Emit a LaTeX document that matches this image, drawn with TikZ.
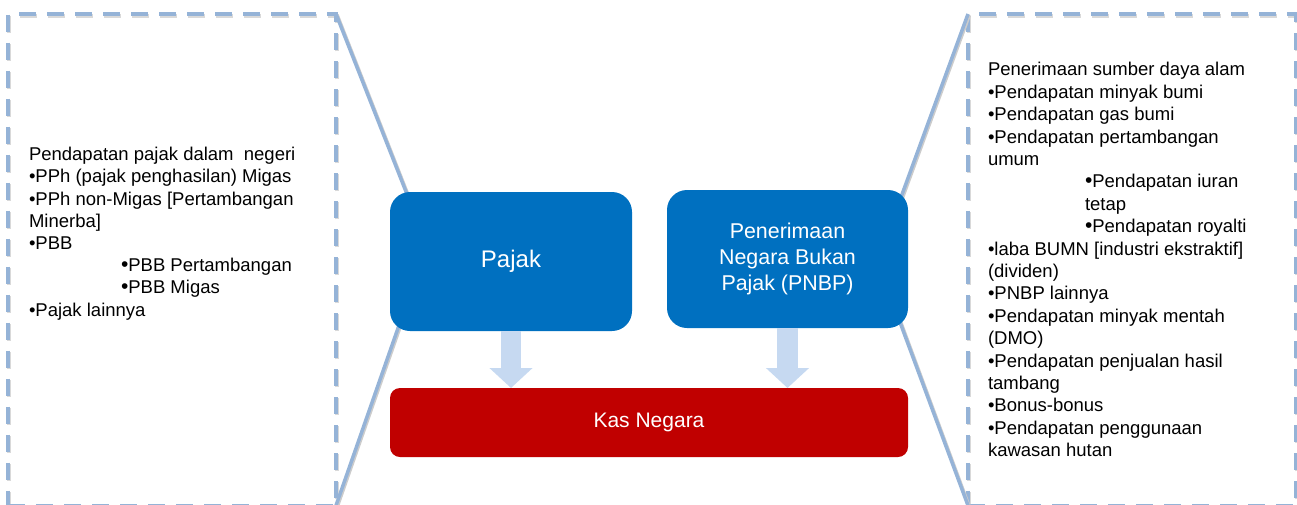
\documentclass[tikz,border=0pt]{standalone}
\usepackage{fontspec}
\setmainfont{Liberation Sans}
\usetikzlibrary{calc,arrows.meta,backgrounds}

\definecolor{boxblue}{HTML}{0070C0}
\definecolor{kasred}{HTML}{C00000}
\definecolor{flowfill}{HTML}{C6D9F1}
\definecolor{frameblue}{HTML}{95B3D7}

% slightly larger round bullet for second-level items
\newcommand\subbullet{{\fontsize{21}{21}\selectfont •}}

\begin{document}
\begin{tikzpicture}[x=1pt,y=-1pt,
  frame/.style={draw=frameblue, line width=4pt, dash pattern=on 17pt off 11pt,
    inner sep=0pt, outer sep=0pt,
    preaction={draw=black!15, line width=4pt, dash pattern=on 17pt off 11pt,
      transform canvas={shift={(1.2pt,-1.8pt)}}}},
  link/.style={draw=frameblue, line width=3.5pt,
    preaction={draw=black!20, line width=3pt,
      transform canvas={shift={(1.5pt,-1.2pt)}}}},
  bluebox/.style={fill=boxblue, rounded corners=20pt, inner sep=0pt, outer sep=0pt,
    text=white, align=center},
  redbox/.style={fill=kasred, rounded corners=10pt, inner sep=0pt, outer sep=0pt,
    text=white, align=center, font=\fontsize{21}{25}\selectfont},
  flow/.style={draw=flowfill, line width=20.5pt, line cap=butt,
    -{Triangle[width=42pt,length=20pt]}},
  listtext/.style={anchor=north west, align=left, inner sep=0pt, outer sep=0pt}
]
\useasboundingbox (0,0) rectangle (1297,504);

% revenue boxes and the treasury
\node[bluebox, minimum width=242pt, minimum height=139pt,
  font=\fontsize{24}{28}\selectfont] (pajak) at (511,261.5) {Pajak};
\node[bluebox, minimum width=241pt, minimum height=138pt,
  font=\fontsize{21.4}{25.7}\selectfont] (pnbp) at (787.5,259)
  {Penerimaan\\Negara Bukan\\Pajak (PNBP)};
\node[redbox, minimum width=518pt, minimum height=69pt] (kas) at (649,422.5) {Kas Negara};

% flow into the treasury
\draw[flow] (pajak.south) -- (pajak.south |- kas.north);
\draw[flow] (pnbp.south) -- (pnbp.south |- kas.north);

\begin{pgfonlayer}{background}
  % dashed frames holding the detail lists
  \node[frame, minimum width=328pt, minimum height=491.5pt] (lframe) at (172,259.75) {};
  \node[frame, minimum width=328pt, minimum height=491.5pt] (rframe) at (1132,259.75) {};
  % callout lines from the frames to the two revenue boxes
  \draw[link] (lframe.north east) -- ($(pajak.north west)+(24,20)$);
  \draw[link] (lframe.south east) -- ($(pajak.south west)+(14,-20)$);
  \draw[link] (rframe.north west) -- ($(pnbp.north east)+(-19,40)$);
  \draw[link] (rframe.south west) -- ($(pnbp.south east)+(-20,-38)$);
\end{pgfonlayer}

% tax items
\node[listtext, font=\fontsize{18.5}{22.2}\selectfont] (ltext) at (29,145.2)
{\strut Pendapatan pajak dalam\ \ negeri\\
•PPh (pajak penghasilan) Migas\\
•PPh non-Migas [Pertambangan\\
Minerba]\\
•PBB\\
\hspace*{92pt}\subbullet PBB Pertambangan\\
\hspace*{92pt}\subbullet PBB Migas\\
•Pajak lainnya};

% non-tax items
\node[listtext, font=\fontsize{18.5}{22.4}\selectfont] (rtext) at (988,60.3)
{\strut Penerimaan sumber daya alam\\
•Pendapatan minyak bumi\\
•Pendapatan gas bumi\\
•Pendapatan pertambangan\\
umum\\
\hspace*{97pt}\subbullet Pendapatan iuran\\
\hspace*{97pt}tetap\\
\hspace*{97pt}\subbullet Pendapatan royalti\\
•laba BUMN [industri ekstraktif]\\
(dividen)\\
•PNBP lainnya\\
•Pendapatan minyak mentah\\
(DMO)\\
•Pendapatan penjualan hasil\\
tambang\\
•Bonus-bonus\\
•Pendapatan penggunaan\\
kawasan hutan};
\end{tikzpicture}
\end{document}
